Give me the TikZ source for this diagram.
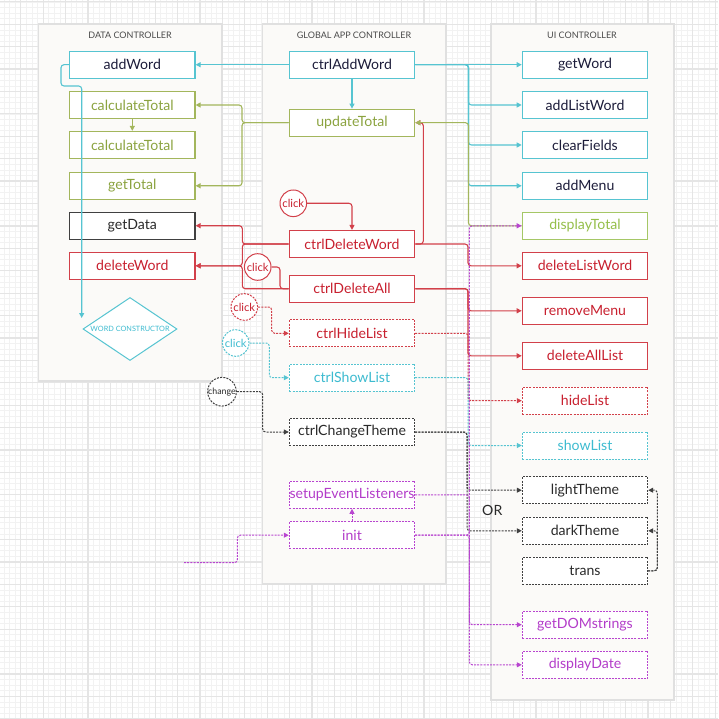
\documentclass[tikz,border=0pt]{standalone}
\usepackage{fontspec}
\setmainfont{Lato}
\usetikzlibrary{arrows.meta,shapes.geometric}
\definecolor{gridminor}{HTML}{F2F2F2}
\definecolor{gridmajor}{HTML}{E5E5E5}
\definecolor{panelfill}{HTML}{FBFAF8}
\definecolor{panelline}{HTML}{E0E0E0}
\definecolor{cyanC}{HTML}{56C4D1}
\definecolor{cyanT}{HTML}{3DBBD0}
\definecolor{greenC}{HTML}{A3B65C}
\definecolor{greenT}{HTML}{8BA33F}
\definecolor{greenL}{HTML}{A5C766}
\definecolor{greenLT}{HTML}{95BF4A}
\definecolor{redC}{HTML}{D2404A}
\definecolor{redT}{HTML}{C8202F}
\definecolor{purpleC}{HTML}{B845D0}
\definecolor{purpleT}{HTML}{B33CC9}
\definecolor{darkC}{HTML}{404040}
\definecolor{darkT}{HTML}{2A2A2A}
\definecolor{navyT}{HTML}{1C1C3A}
\definecolor{titleT}{HTML}{4A4A4A}
\begin{document}
\begin{tikzpicture}[x=1pt,y=-1pt,
  fn/.style={font=\fontsize{14.1}{15}\selectfont},
  box/.style={draw, line width=1.2pt, fill=white, minimum width=125.4pt, minimum height=27pt, inner sep=0pt, fn},
  dbox/.style={box, line width=1pt, dash pattern=on 2pt off 1.2pt},
  cbox/.style={box, draw=cyanC, text=navyT},
  gbox/.style={box, draw=greenC, text=greenT},
  rbox/.style={box, draw=redC, text=redT},
  rdbox/.style={dbox, draw=redC, text=redT},
  cdbox/.style={dbox, draw=cyanC, text=cyanT},
  kdbox/.style={dbox, draw=darkC, text=darkT},
  pdbox/.style={dbox, draw=purpleC, text=purpleT},
  panel/.style={draw=panelline, fill=panelfill, line width=1.5pt},
  ptitle/.style={text=titleT, font=\fontsize{9}{10}\selectfont, inner sep=0pt},
  circ/.style={circle, draw, fill=white, minimum size=26.6pt, inner sep=0pt, line width=1pt, font=\fontsize{11.2}{12}\selectfont},
  tip/.style={-{Triangle[length=5pt,width=5pt]}},
  conn/.style={line width=1.1pt, rounded corners=3pt},
  dconn/.style={conn, line width=1pt, dash pattern=on 2pt off 1.2pt},
  cyanline/.style={conn, draw=cyanC, tip},
  greenline/.style={conn, draw=greenC, tip},
  redline/.style={conn, draw=redC, tip},
  redd/.style={dconn, draw=redC, tip},
  cyand/.style={dconn, draw=cyanC, tip},
  darkd/.style={dconn, draw=darkC, tip},
  purpled/.style={dconn, draw=purpleC, tip}
]
\useasboundingbox (0,0) rectangle (718,719);
\fill[white] (0,0) rectangle (718,719);
% grid
\foreach \k in {0,...,127} {\draw[gridminor, line width=0.6pt] ({3.9+5.6*\k},0) -- ({3.9+5.6*\k},719);}
\foreach \k in {0,...,128} {\draw[gridminor, line width=0.6pt] (0,{1.9+5.6*\k}) -- (718,{1.9+5.6*\k});}
\foreach \k in {0,...,31} {\draw[gridmajor, line width=1.2pt] ({20.7+22.4*\k},0) -- ({20.7+22.4*\k},719);}
\foreach \k in {0,...,32} {\draw[gridmajor, line width=1.2pt] (0,{1.9+22.4*\k}) -- (718,{1.9+22.4*\k});}
% panels
\draw[panel] (38.5,24) rectangle (222,381);
\draw[panel] (262.7,24) rectangle (446,584);
\draw[panel] (491,24) rectangle (674,700);
\node[ptitle] (t1) at (130,35) {DATA CONTROLLER};
\node[ptitle] (t2) at (354,35) {GLOBAL APP CONTROLLER};
\node[ptitle] (t3) at (582,35) {UI CONTROLLER};
% data controller
\node[cbox] (addWord) at (132.3,64.7) {addWord};
\node[gbox] (calc1) at (132.3,105) {calculateTotal};
\node[gbox] (calc2) at (132.3,145) {calculateTotal};
\node[gbox] (getTotal) at (132.3,185.8) {getTotal};
\node[box, draw=darkC, text=darkT] (getData) at (132.3,225.7) {getData};
\node[rbox] (deleteWord) at (132.3,265.8) {deleteWord};
\node[diamond, aspect=1.5, draw=cyanC, line width=1pt, fill=white, minimum width=94pt, minimum height=63pt, inner sep=0pt, text=cyanT, font=\fontsize{7.3}{8}\selectfont] (wc) at (130,329) {WORD CONSTRUCTOR};
% global
\node[cbox] (ctrlAddWord) at (352,64.7) {ctrlAddWord};
\node[gbox] (updateTotal) at (352,122.7) {updateTotal};
\node[rbox] (ctrlDeleteWord) at (352,244) {ctrlDeleteWord};
\node[rbox] (ctrlDeleteAll) at (352,288.7) {ctrlDeleteAll};
\node[rdbox] (ctrlHideList) at (352,333.3) {ctrlHideList};
\node[cdbox] (ctrlShowList) at (352,377.7) {ctrlShowList};
\node[kdbox] (ctrlChangeTheme) at (352,432) {ctrlChangeTheme};
\node[pdbox] (setup) at (352,494.8) {setupEventListeners};
\node[pdbox] (init) at (352,535.2) {init};
% UI
\node[cbox] (getWord) at (585,64.7) {getWord};
\node[cbox] (addListWord) at (585,105) {addListWord};
\node[cbox] (clearFields) at (585,145) {clearFields};
\node[cbox] (addMenu) at (585,185.8) {addMenu};
\node[box, draw=greenL, text=greenLT] (displayTotal) at (585,225.8) {displayTotal};
\node[rbox] (deleteListWord) at (585,265.8) {deleteListWord};
\node[rbox] (removeMenu) at (585,310.8) {removeMenu};
\node[rbox] (deleteAllList) at (585,355.8) {deleteAllList};
\node[rdbox] (hideList) at (585,400.7) {hideList};
\node[cdbox] (showList) at (585,445.5) {showList};
\node[kdbox] (lightTheme) at (585,490.2) {lightTheme};
\node[kdbox] (darkTheme) at (585,530.8) {darkTheme};
\node[kdbox] (trans) at (585,570.8) {trans};
\node[pdbox] (getDOM) at (585,624.7) {getDOMstrings};
\node[pdbox] (displayDate) at (585,664.8) {displayDate};
\node[fn, text=darkT, inner sep=0pt] (orlabel) at (492.3,510) {OR};
% event circles
\node[circ, draw=redC, text=redT] (click1) at (293.3,203.3) {click};
\node[circ, draw=redC, text=redT] (click2) at (257.7,267) {click};
\node[circ, draw=redC, text=redT, dash pattern=on 2pt off 1.2pt] (click3) at (244.3,307) {click};
\node[circ, draw=cyanC, text=cyanT, dash pattern=on 2pt off 1.2pt] (click4) at (235.7,343) {click};
\node[circ, draw=darkC, text=darkT, dash pattern=on 2pt off 1.2pt, font=\fontsize{8.8}{9}\selectfont] (change) at (222,391.7) {change};
% cyan connectors
\coordinate (wcin) at (81.7,318);
\draw[cyanline] (ctrlAddWord.west) -- (addWord.east);
\draw[cyanline] (addWord.west) -- (61,64.7) -- (61,86) -- (81.7,86) -- (wcin);
\draw[cyanline] (ctrlAddWord.south) -- (updateTotal.north);
\draw[cyanline] (ctrlAddWord.east) -- (getWord.west);
\draw[cyanline] (ctrlAddWord.east) -- (468.5,64.7) |- (addListWord.west);
\draw[cyanline] (ctrlAddWord.east) -- (468.5,64.7) |- (clearFields.west);
\draw[cyanline] (ctrlAddWord.east) -- (468.5,64.7) |- (addMenu.west);
% green connectors
\draw[greenline] (updateTotal.west) -- (242,122.7) |- (calc1.east);
\draw[greenline] (updateTotal.west) -- (242,122.7) |- (getTotal.east);
\draw[greenline] (calc1.south) -- (calc2.north);
% red connectors
\draw[redline] (ctrlDeleteWord.east) -- (423.3,244) |- (updateTotal.east);
\draw[greenline] (displayTotal.west) -- (468.5,225.8) |- (updateTotal.east);
\draw[redline] (click1.east) -| (ctrlDeleteWord.north);
\draw[redline] (ctrlDeleteWord.west) -- (242.3,244) |- (getData.east);
\draw[redline] (ctrlDeleteWord.west) -- (242.3,244) |- (deleteWord.east);
\draw[redline] (ctrlDeleteAll.west) -- (242.3,288.7) |- (deleteWord.east);
\draw[conn, draw=redC] (click2.east) -- (280,267) |- (ctrlDeleteAll.west);
\draw[redline] (ctrlDeleteWord.east) -- (468,244) |- (deleteListWord.west);
\draw[redline] (ctrlDeleteAll.east) -- (468,288.7) |- (removeMenu.west);
\draw[redline] (ctrlDeleteAll.east) -- (468,288.7) |- (deleteAllList.west);
\draw[redd] (click3.east) -- (271.7,307) |- (ctrlHideList.west);
\draw[redd] (ctrlHideList.east) -- (468,333.3) |- (hideList.west);
% cyan dashed
\draw[cyand] (click4.east) -- (269.3,343) |- (ctrlShowList.west);
\draw[cyand] (ctrlShowList.east) -- (468,377.7) |- (showList.west);
% dark dashed
\draw[darkd] (change.east) -- (262.7,391.7) |- (ctrlChangeTheme.west);
\draw[darkd] (ctrlChangeTheme.east) -- (467,432) |- (lightTheme.west);
\draw[darkd] (ctrlChangeTheme.east) -- (467,432) |- (darkTheme.west);
\draw[darkd] (trans.east) -- (657.3,570.8) |- (lightTheme.east);
\draw[darkd] (trans.east) -- (657.3,570.8) |- (darkTheme.east);
% purple dashed
\coordinate (initsrc) at (184,562.7);
\draw[purpled] (init.north) -- (setup.south);
\draw[purpled] (setup.east) -- (469.3,494.8) |- (getDOM.west);
\draw[purpled] (init.east) -- (469.3,535.2) |- (displayDate.west);
\draw[purpled] (init.east) -- (469.3,535.2) |- (displayTotal.west);
\draw[purpled] (initsrc) -- (237.3,562.7) |- (init.west);
\end{tikzpicture}
\end{document}
